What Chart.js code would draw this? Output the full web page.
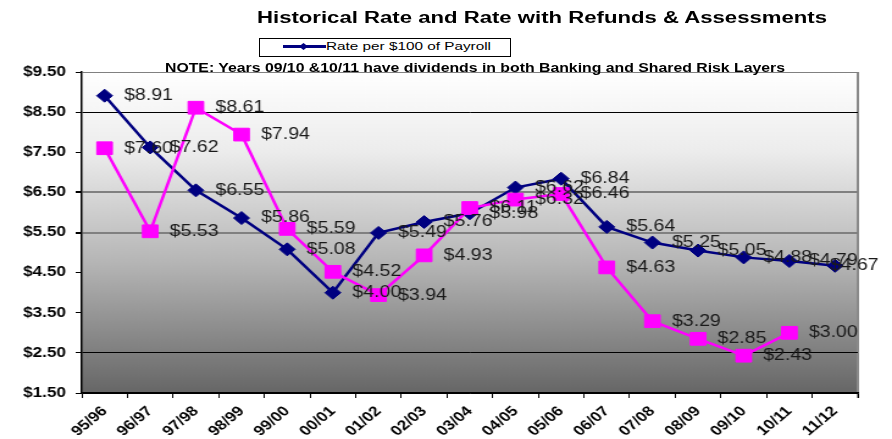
<!DOCTYPE html>
<html>
<head>
<meta charset="utf-8">
<script src="https://cdn.jsdelivr.net/npm/chart.js@4.4.1/dist/chart.umd.min.js"></script>
<style>
  html, body { margin: 0; padding: 0; background: #fff; }
  #wrap { position: relative; width: 892px; height: 439px; overflow: hidden; background: #fff; }
  /* the chart is drawn narrower and stretched sideways, like the original picture */
  #plot { position: absolute; left: 0; top: 0; width: 731px; height: 439px; transform: scaleX(1.22025); transform-origin: 0 0; }
  .txt { position: absolute; white-space: nowrap; transform-origin: 0 0; font-family: "Liberation Sans", Arial, sans-serif; color: #000; }
  #title { top: 10px; font-size: 16px; line-height: 16px; font-weight: bold; }
  #note { top: 62px; font-size: 12px; line-height: 12px; font-weight: bold; }
  #legendBox { position: absolute; left: 259px; top: 38px; width: 250px; height: 17px; border: 1px solid #000; background: #fff; }
  #legendLine { position: absolute; left: 283px; top: 41px; }
  #legendText { top: 41px; font-size: 11px; line-height: 11px; }
</style>
</head>
<body>
<div id="wrap">
  <div id="plot"><canvas id="rateChart" width="731" height="439"></canvas></div>
  <div class="txt" id="title">Historical Rate and Rate with Refunds &amp; Assessments</div>
  <div id="legendBox"></div>
  <svg id="legendLine" width="43" height="11">
    <line x1="0" y1="5.5" x2="43" y2="5.5" stroke="#000080" stroke-width="3"/>
    <polygon points="16,5.5 20.5,2 25,5.5 20.5,9" fill="#000080"/>
  </svg>
  <div class="txt" id="legendText">Rate per $100 of Payroll</div>
  <div class="txt" id="note">NOTE: Years 09/10 &amp;10/11 have dividends in both Banking and Shared Risk Layers</div>
</div>
<script>
const years = ['95/96', '96/97', '97/98', '98/99', '99/00', '00/01', '01/02', '02/03', '03/04',
  '04/05', '05/06', '06/07', '07/08', '08/09', '09/10', '10/11', '11/12'];
const ratePerPayroll = [8.91, 7.62, 6.55, 5.86, 5.08, 4.00, 5.49, 5.76, 5.98,
  6.62, 6.84, 5.64, 5.25, 5.05, 4.88, 4.79, 4.67];
const rateWithRefunds = [7.60, 5.53, 8.61, 7.94, 5.59, 4.52, 3.94, 4.93, 6.11,
  6.32, 6.46, 4.63, 3.29, 2.85, 2.43, 3.00, null];
const yTicks = [1.5, 2.5, 3.5, 4.5, 5.5, 6.5, 7.5, 8.5, 9.5];

// stretch the html texts to the widths they have in the original
function fit(id, left, right) {
  const el = document.getElementById(id);
  const w = el.getBoundingClientRect().width;
  el.style.left = left + 'px';
  el.style.transform = 'scaleX(' + ((right - left) / w) + ')';
}
fit('title', 257, 827);
fit('note', 165, 785);
fit('legendText', 326, 491);

// gray gradient behind the plot and the right hand border
const plotBackground = {
  id: 'plotBackground',
  beforeDraw(chart) {
    const { ctx, chartArea: a } = chart;
    const g = ctx.createLinearGradient(0, a.top, 0, a.bottom);
    g.addColorStop(0, '#ffffff');
    g.addColorStop(0.25, '#ececec');
    g.addColorStop(0.6, '#b4b4b4');
    g.addColorStop(1, '#666666');
    ctx.save();
    ctx.fillStyle = g;
    ctx.fillRect(a.left, a.top, a.right - a.left, a.bottom - a.top);
    ctx.strokeStyle = '#8a8a8a';
    ctx.lineWidth = 2;
    ctx.beginPath();
    ctx.moveTo(a.right, a.top);
    ctx.lineTo(a.right, a.bottom + 5);
    ctx.stroke();
    ctx.restore();
  }
};

// "$x.xx" right of every point
const valueLabels = {
  id: 'valueLabels',
  afterDatasetsDraw(chart) {
    const ctx = chart.ctx;
    ctx.save();
    ctx.font = '16px "Liberation Sans", Arial, sans-serif';
    ctx.fillStyle = '#1a1a1a';
    ctx.textBaseline = 'middle';
    chart.data.datasets.forEach((ds, i) => {
      chart.getDatasetMeta(i).data.forEach((pt, j) => {
        const v = ds.data[j];
        if (v == null) return;
        const text = '$' + v.toFixed(2);
        let x = pt.x + 16;
        const w = ctx.measureText(text).width;
        if (x + w > chart.width - 11) x = chart.width - 11 - w;
        ctx.fillText(text, x, pt.y);
      });
    });
    ctx.restore();
  }
};

function gridColor(ctx) {
  const v = ctx.tick ? ctx.tick.value : null;
  if (v === 8.5 || v === 2.5 || v === 1.5) return '#000000';
  if (v === 6.5 || v === 5.5 || v === 9.5) return '#808080';
  return 'rgba(0,0,0,0)';
}

new Chart(document.getElementById('rateChart'), {
  type: 'line',
  data: {
    labels: years,
    datasets: [
      {
        label: 'Rate per $100 of Payroll',
        data: ratePerPayroll,
        borderColor: '#000080',
        backgroundColor: '#000080',
        borderWidth: 2.5,
        pointStyle: 'rectRot',
        pointRadius: 6.5,
        pointBorderWidth: 1,
        tension: 0,
        order: 1
      },
      {
        label: 'Rate with Refunds & Assessments',
        data: rateWithRefunds,
        borderColor: '#ff00ff',
        backgroundColor: '#ff00ff',
        borderWidth: 2.5,
        pointStyle: 'rect',
        pointRadius: 9,
        pointBorderWidth: 1,
        tension: 0,
        order: 0
      }
    ]
  },
  options: {
    responsive: false,
    animation: false,
    devicePixelRatio: 1,
    layout: { padding: { top: 72, right: 28, bottom: 0, left: 0 } },
    plugins: {
      legend: { display: false },
      tooltip: { enabled: false }
    },
    scales: {
      x: {
        type: 'category',
        offset: true,
        afterFit: (scale) => { scale.height = 46; },
        grid: {
          offset: true,
          drawOnChartArea: false,
          drawTicks: true,
          tickLength: 5,
          color: '#000'
        },
        border: { display: true, color: '#000', width: 1.5 },
        ticks: {
          autoSkip: false,
          minRotation: 45,
          maxRotation: 45,
          padding: 5,
          color: '#000',
          font: { family: '"Liberation Sans", Arial, sans-serif', size: 14, weight: 'bold' }
        }
      },
      y: {
        min: 1.5,
        max: 9.5,
        afterFit: (scale) => { scale.width = 67; },
        afterBuildTicks: (scale) => { scale.ticks = yTicks.map(v => ({ value: v })); },
        grid: {
          color: gridColor,
          lineWidth: (ctx) => (ctx.tick && (ctx.tick.value === 6.5 || ctx.tick.value === 5.5)) ? 2 : 1,
          tickColor: '#000',
          tickLength: 5
        },
        border: { display: true, color: '#000', width: 1.5 },
        ticks: {
          padding: 8,
          color: '#000',
          font: { family: '"Liberation Sans", Arial, sans-serif', size: 14, weight: 'bold' },
          callback: (v) => '$' + Number(v).toFixed(2)
        }
      }
    }
  },
  plugins: [plotBackground, valueLabels]
});
</script>
</body>
</html>
